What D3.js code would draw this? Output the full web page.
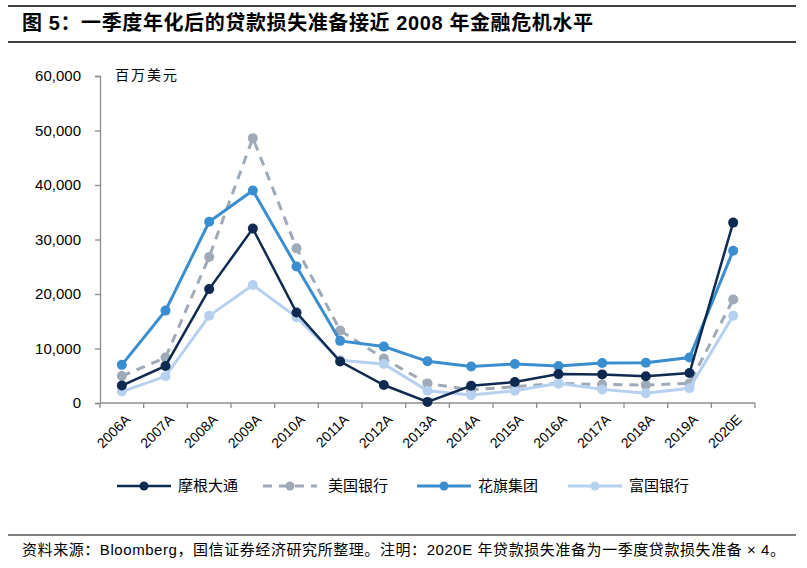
<!DOCTYPE html>
<html>
<head>
<meta charset="utf-8">
<script src="https://cdn.jsdelivr.net/npm/d3@7"></script>
<style>
  body { margin: 0; background: #fff; }
  svg { display: block; }
</style>
</head>
<body>
<div id="chart"></div>
<script>
// categories and values (百万美元)
var years = ["2006A", "2007A", "2008A", "2009A", "2010A", "2011A", "2012A", "2013A",
             "2014A", "2015A", "2016A", "2017A", "2018A", "2019A", "2020E"];
var jpm  = [3200, 6800, 20900, 32000, 16600, 7600, 3300, 200, 3150, 3850, 5300, 5250, 4900, 5500, 33100];
var bac  = [4950, 8350, 26800, 48600, 28400, 13300, 8150, 3600, 2400, 3000, 3600, 3400, 3300, 3600, 19000];
var citi = [7000, 16950, 33250, 39000, 25050, 11400, 10350, 7650, 6700, 7150, 6800, 7350, 7400, 8350, 27950];
var wfc  = [2100, 4900, 16000, 21650, 15750, 7850, 7150, 2250, 1450, 2250, 3600, 2500, 1800, 2700, 16000];
var yTicks = [0, 10000, 20000, 30000, 40000, 50000, 60000];

var series = [
  { name: "美国银行", values: bac,  color: "#9eaab8", width: 3,   dash: "9,7" },
  { name: "富国银行", values: wfc,  color: "#b6d0f0", width: 3,   dash: null },
  { name: "花旗集团", values: citi, color: "#3a8ed0", width: 3,   dash: null },
  { name: "摩根大通", values: jpm,  color: "#0f2a50", width: 2.5, dash: null }
];
var legendOrder = ["摩根大通", "美国银行", "花旗集团", "富国银行"];

var W = 807, H = 568;
var svg = d3.select("#chart").append("svg").attr("width", W).attr("height", H);

var cjk = "'Liberation Sans', 'Noto Sans CJK SC', sans-serif";
var latin = "'Liberation Sans', Arial, sans-serif";

// title block
svg.append("line").attr("x1", 8).attr("x2", 796).attr("y1", 6).attr("y2", 6)
  .attr("stroke", "#000").attr("stroke-width", 1.5);
svg.append("text")
  .attr("x", 22).attr("y", 30)
  .attr("font-family", cjk).attr("font-weight", "bold").attr("font-size", "20px")
  .attr("textLength", 571).attr("lengthAdjust", "spacing")
  .text("图 5：一季度年化后的贷款损失准备接近 2008 年金融危机水平");
svg.append("line").attr("x1", 8).attr("x2", 796).attr("y1", 42).attr("y2", 42)
  .attr("stroke", "#000").attr("stroke-width", 1.5);

// footer
svg.append("line").attr("x1", 8).attr("x2", 796).attr("y1", 535).attr("y2", 535)
  .attr("stroke", "#000").attr("stroke-width", 1.2);
svg.append("text")
  .attr("x", 22).attr("y", 555)
  .attr("font-family", cjk).attr("font-size", "15px")
  .attr("textLength", 763).attr("lengthAdjust", "spacing")
  .text("资料来源：Bloomberg，国信证券经济研究所整理。注明：2020E 年贷款损失准备为一季度贷款损失准备 × 4。");

// plot area
var plotLeft = 100, plotRight = 755, plotTop = 76, plotBottom = 403;

var x = d3.scaleBand().domain(years).range([plotLeft, plotRight]);
var y = d3.scaleLinear().domain([0, 60000]).range([plotBottom, plotTop]);

var axisColor = "#8c8c8c";

// y axis
var yAxis = svg.append("g").attr("transform", "translate(" + plotLeft + ",0)")
  .call(d3.axisLeft(y).tickValues(yTicks).tickSize(5).tickPadding(14).tickFormat(d3.format(",")));
yAxis.select(".domain").attr("stroke", axisColor).attr("stroke-width", 1.3);
yAxis.selectAll(".tick line").attr("stroke", axisColor).attr("stroke-width", 1.3);
yAxis.selectAll("text").attr("font-family", latin).attr("font-size", "15px").attr("fill", "#000");

// x axis: ticks sit at category boundaries
var xAxis = svg.append("g").attr("transform", "translate(0," + plotBottom + ")");
xAxis.append("line").attr("x1", plotLeft).attr("x2", plotRight)
  .attr("stroke", axisColor).attr("stroke-width", 1.3);
var bounds = years.map(function(d) { return x(d); }).concat([plotRight]);
xAxis.selectAll("line.tk").data(bounds).enter().append("line")
  .attr("class", "tk")
  .attr("x1", function(d) { return d; }).attr("x2", function(d) { return d; })
  .attr("y1", 0).attr("y2", 5)
  .attr("stroke", axisColor).attr("stroke-width", 1.3);
xAxis.selectAll("text").data(years).enter().append("text")
  .attr("transform", function(d) {
    return "translate(" + (x(d) + x.bandwidth() / 2 + 6) + ",14) rotate(-45)";
  })
  .attr("text-anchor", "end")
  .attr("dy", "0.35em")
  .attr("font-family", latin).attr("font-size", "14px")
  .text(function(d) { return d; });

// unit label
svg.append("text")
  .attr("x", 115).attr("y", 80)
  .attr("font-family", cjk).attr("font-size", "14px")
  .attr("letter-spacing", "2px")
  .text("百万美元");

// lines and markers
var line = d3.line()
  .x(function(d, i) { return x(years[i]) + x.bandwidth() / 2; })
  .y(function(d) { return y(d); });

series.forEach(function(s) {
  var g = svg.append("g");
  g.append("path")
    .attr("d", line(s.values))
    .attr("fill", "none")
    .attr("stroke", s.color)
    .attr("stroke-width", s.width)
    .attr("stroke-dasharray", s.dash);
  g.selectAll("circle").data(s.values).enter().append("circle")
    .attr("cx", function(d, i) { return x(years[i]) + x.bandwidth() / 2; })
    .attr("cy", function(d) { return y(d); })
    .attr("r", 5)
    .attr("fill", s.color);
});

// legend
var legendX = [117, 263, 417, 568];
var legend = svg.append("g");
legendOrder.forEach(function(name, i) {
  var s = series.find(function(d) { return d.name == name; });
  var lx = legendX[i], ly = 486;
  legend.append("line")
    .attr("x1", lx).attr("x2", lx + 54).attr("y1", ly).attr("y2", ly)
    .attr("stroke", s.color).attr("stroke-width", s.width)
    .attr("stroke-dasharray", s.dash ? "9,7" : null);
  legend.append("circle")
    .attr("cx", lx + 27).attr("cy", ly).attr("r", 4.5).attr("fill", s.color);
  legend.append("text")
    .attr("x", lx + (s.dash ? 65 : 61)).attr("y", ly + 5)
    .attr("font-family", cjk).attr("font-size", "15px")
    .text(name);
});
</script>
</body>
</html>
